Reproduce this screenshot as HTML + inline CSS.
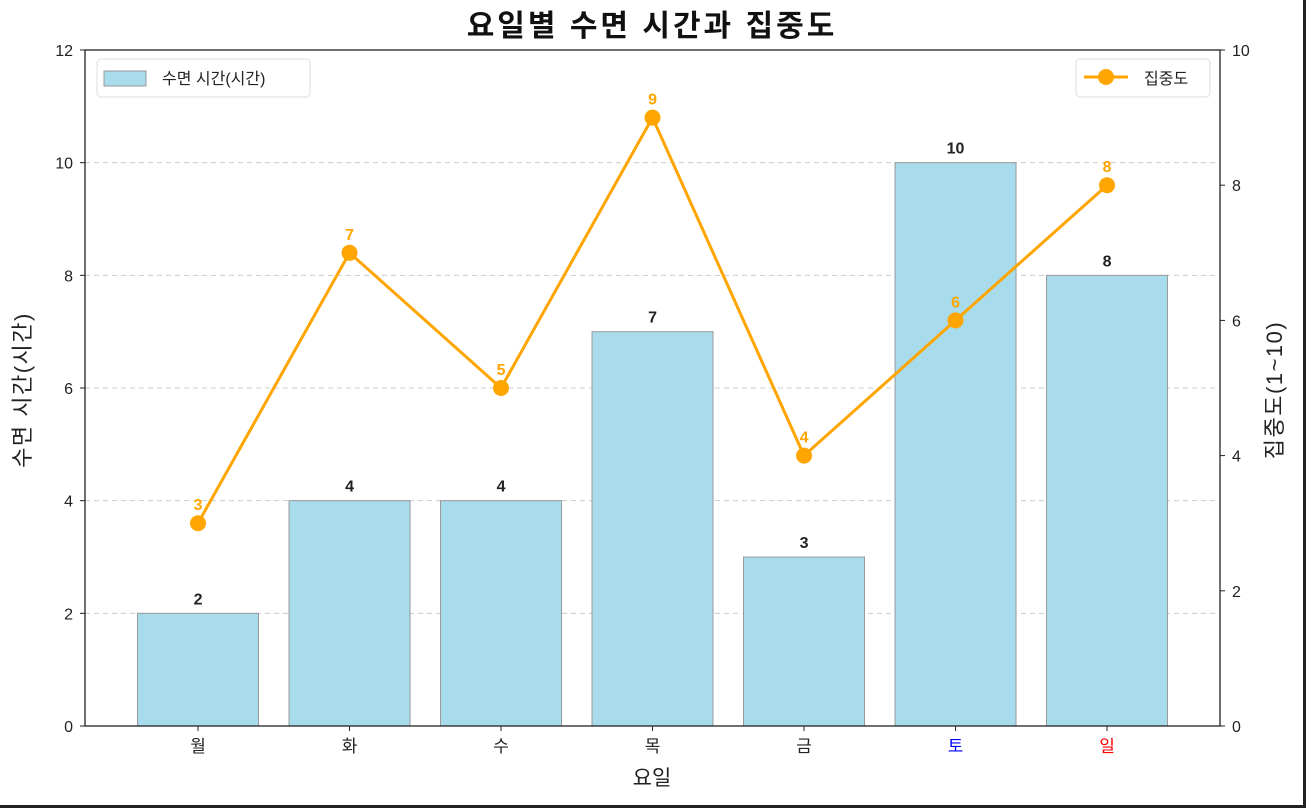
<!DOCTYPE html>
<html><head><meta charset="utf-8"><style>
html,body{margin:0;padding:0;background:#fff;}
svg{display:block;font-family:"Liberation Sans","Noto Sans CJK KR",sans-serif;}
</style></head><body>
<svg id="chart" width="1306" height="808" viewBox="0 0 1306 808">
<rect x="0" y="0" width="1306" height="808" fill="#fff"/>
<rect x="1303" y="0" width="3" height="808" fill="#222"/>
<rect x="0" y="805" width="1306" height="3" fill="#222"/>
<text x="652" y="36" text-anchor="middle" font-size="30" font-weight="bold" letter-spacing="3" fill="#111">요일별 수면 시간과 집중도</text>
<g id="grid"></g>
<g id="bars"></g>
<g id="line"></g>
<g id="axes"></g>
<text x="30" y="390" text-anchor="middle" font-size="22" letter-spacing="1.5" fill="#222" transform="rotate(-90 30 390)">수면 시간(시간)</text>
<text x="1282" y="390" text-anchor="middle" font-size="22" letter-spacing="1.5" fill="#222" transform="rotate(-90 1282 390)">집중도(1~10)</text>
<text x="652" y="785" text-anchor="middle" font-size="21" fill="#222">요일</text>
<g>
<rect x="97" y="59" width="213" height="38" rx="4" fill="#fff" stroke="#ddd"/>
<rect x="104" y="71" width="42" height="15" stroke="#999" style="fill:#a8dbec"/>
<text x="162" y="84" font-size="16" fill="#222">수면 시간(시간)</text>
</g>
<g>
<rect x="1076" y="59" width="134" height="38" rx="4" fill="#fff" stroke="#ddd"/>
<line x1="1084" y1="77" x2="1128" y2="77" stroke="orange" stroke-width="3"/>
<circle cx="1106" cy="77" r="8" fill="orange"/>
<text x="1144" y="84" font-size="16" fill="#222">집중도</text>
</g>
</svg>
<script>
const days = ['월','화','수','목','금','토','일'];
const sleepHours = [2,4,4,7,3,10,8];
const focus = [3,7,5,9,4,6,8];
const leftTicks = [0,2,4,6,8,10,12];
const rightTicks = [0,2,4,6,8,10];
const dayColors = ['#222','#222','#222','#222','#222','blue','red'];

const NS='http://www.w3.org/2000/svg';
const L=85,R=1220,T=50,B=726;
const xs=i=>L+(i+0.746)*151.5;
const yl=v=>B-(v/12)*(B-T);
const yr=v=>B-(v/10)*(B-T);
function mk(tag,attrs,parent,text){const e=document.createElementNS(NS,tag);for(const k in attrs)e.setAttribute(k,attrs[k]);if(text!==undefined)e.textContent=text;document.getElementById(parent).appendChild(e);return e;}

leftTicks.forEach(v=>{
  if(v>0&&v<12){const g=mk('line',{x1:L,x2:R,y1:yl(v),y2:yl(v),stroke:'#ccc','stroke-dasharray':'5,4'},'grid');
  
  }
  mk('line',{x1:L-5,x2:L,y1:yl(v),y2:yl(v),stroke:'#222'},'axes');
  const t=mk('text',{x:L-12,y:yl(v)+6,'text-anchor':'end','font-size':16,fill:'#222'},'axes',v);
  
  
});
rightTicks.forEach(v=>{
  mk('line',{x1:R,x2:R+5,y1:yr(v),y2:yr(v),stroke:'#222'},'axes');
  const t=mk('text',{x:R+12,y:yr(v)+6,'font-size':16,fill:'#222'},'axes',v);
  
  
});
days.forEach((d,i)=>{
  const x=xs(i);
  const b=mk('rect',{x:x-60.5,y:yl(sleepHours[i]),width:121,height:B-yl(sleepHours[i]),fill:'#a8dbec',stroke:'#999'},'bars');
  
  
  const bl=mk('text',{x:x,y:yl(sleepHours[i])-9,'text-anchor':'middle','font-size':16,'font-weight':'bold',fill:'#222'},'bars',sleepHours[i]);
  
  
  mk('line',{x1:x,x2:x,y1:B,y2:B+5,stroke:'#222'},'axes');
  const t=mk('text',{x:x,y:B+26,'text-anchor':'middle','font-size':17,fill:dayColors[i]},'axes',d);
  
  
});
const pts=focus.map((v,i)=>xs(i)+','+yr(v)).join(' ');
const pl=mk('polyline',{points:pts,fill:'none',stroke:'orange','stroke-width':3},'line');


focus.forEach((v,i)=>{
  const c=mk('circle',{cx:xs(i),cy:yr(v),r:8,fill:'orange'},'line');
  
  
  const t=mk('text',{x:xs(i),y:yr(v)-13,'text-anchor':'middle','font-size':16,'font-weight':'bold',fill:'orange'},'line',v);
  
  
});
mk('rect',{x:L,y:T,width:R-L,height:B-T,fill:'none',stroke:'#222','stroke-width':1.3},'axes');
</script>
</body></html>
